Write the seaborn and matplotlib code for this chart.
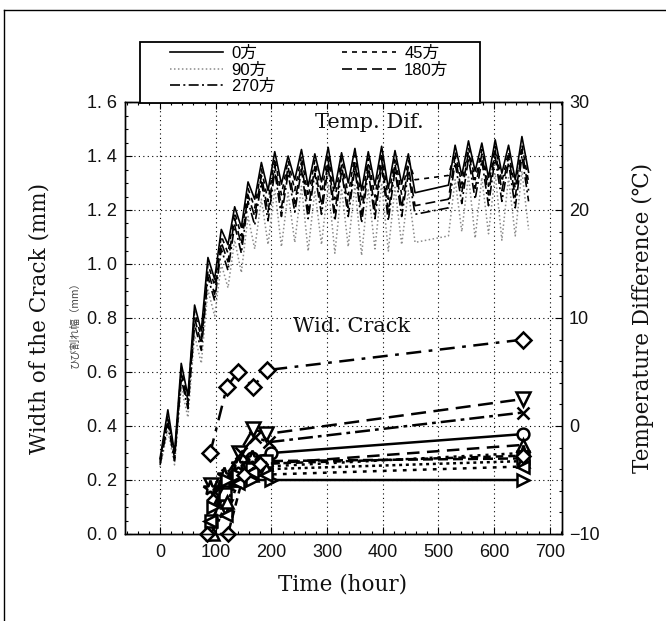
import numpy as np
import pandas as pd
import matplotlib
matplotlib.use("Agg")
import matplotlib.pyplot as plt
from matplotlib.lines import Line2D
from matplotlib.patches import Rectangle
from matplotlib.ticker import MultipleLocator
import seaborn as sns

# ---------------- data ----------------
time_h = [0, 14, 26, 38, 50, 62, 74, 86, 98, 110, 122, 134, 146, 158, 170, 182, 194,
          206, 218, 230, 242, 254, 266, 278, 290, 302, 314, 326, 338, 350, 362, 374,
          386, 398, 410, 422, 434, 446, 458,
          518, 530, 542, 554, 566, 578, 590, 602, 614, 626, 638, 650, 662]

temp_0 = [-3.0, 1.5, -2.5, 5.8, 2.8, 11.2, 8.8, 15.6, 13.6, 18.2, 16.8, 20.3, 18.4, 22.6,
          21.0, 24.4, 21.8, 25.4, 22.4, 25.0, 22.8, 25.6, 22.2, 25.2, 22.6, 25.8, 22.0,
          25.3, 22.5, 25.7, 21.8, 25.4, 22.3, 25.9, 22.0, 25.5, 22.4, 25.2, 21.6,
          22.3, 26.0, 23.2, 26.4, 23.6, 26.2, 23.0, 26.5, 23.4, 26.0, 22.8, 26.8, 23.5]
temp_45 = [-3.2, 1.0, -2.8, 5.2, 2.4, 10.6, 8.2, 15.0, 13.0, 17.6, 16.0, 19.8, 17.6, 22.0,
           20.2, 23.8, 20.8, 24.8, 21.4, 24.6, 21.8, 25.0, 21.2, 24.6, 21.6, 25.2, 21.0,
           24.8, 21.4, 25.1, 20.8, 24.8, 21.2, 25.3, 21.0, 24.9, 21.4, 24.6, 22.8,
           23.2, 25.4, 22.4, 25.8, 22.8, 25.6, 22.2, 25.9, 22.6, 25.4, 22.0, 26.0, 22.6]
temp_90 = [-3.8, -0.4, -3.6, 3.6, 0.8, 8.4, 5.8, 12.6, 10.2, 15.0, 12.8, 17.2, 14.2, 19.4,
           16.4, 21.0, 16.8, 22.0, 16.6, 21.6, 17.0, 22.2, 16.2, 21.8, 16.8, 22.4, 16.0,
           22.0, 16.6, 22.3, 15.8, 22.0, 16.4, 22.5, 16.2, 22.1, 16.8, 21.8, 17.0,
           17.6, 22.8, 18.0, 23.2, 17.4, 23.0, 17.8, 23.4, 17.2, 23.0, 17.6, 23.6, 18.2]
temp_180 = [-3.4, 0.6, -3.0, 4.8, 2.0, 10.0, 7.6, 14.4, 12.2, 17.0, 15.2, 19.2, 16.8, 21.4,
            19.4, 23.2, 19.8, 24.2, 20.2, 24.0, 20.6, 24.4, 20.0, 24.0, 20.4, 24.6, 19.8,
            24.2, 20.2, 24.5, 19.6, 24.2, 20.0, 24.7, 19.8, 24.3, 20.2, 24.0, 20.4,
            21.0, 25.0, 21.6, 25.4, 22.0, 25.2, 21.4, 25.5, 21.8, 25.0, 21.2, 25.6, 21.8]
temp_270 = [-3.6, 0.2, -3.2, 4.4, 1.6, 9.4, 7.0, 13.8, 11.6, 16.4, 14.4, 18.6, 16.0, 20.8,
            18.6, 22.6, 19.0, 23.6, 19.4, 23.4, 19.8, 23.8, 19.2, 23.4, 19.6, 24.0, 19.0,
            23.6, 19.4, 23.9, 18.8, 23.6, 19.2, 24.1, 19.0, 23.7, 19.4, 23.4, 19.6,
            20.2, 24.4, 20.6, 24.8, 21.0, 24.6, 20.4, 24.9, 20.8, 24.4, 20.2, 25.0, 20.8]

temp_labels = ["0方", "45方", "90方", "180方", "270方"]

# crack width series (hours, mm)
crack_A_t = [90, 120, 140, 167, 192, 652]
crack_A_w = [0.30, 0.545, 0.60, 0.545, 0.607, 0.72]
crack_B_t = [92, 117, 142, 167, 190, 652]
crack_B_w = [0.18, 0.10, 0.30, 0.39, 0.37, 0.50]
crack_C_t = [95, 120, 145, 170, 195, 652]
crack_C_w = [0.15, 0.22, 0.30, 0.36, 0.34, 0.45]
crack_D_t = [88, 115, 140, 165, 200, 652]
crack_D_w = [0.00, 0.18, 0.25, 0.28, 0.30, 0.37]
crack_E_t = [90, 115, 140, 165, 190, 652]
crack_E_w = [0.02, 0.20, 0.24, 0.27, 0.26, 0.33]
crack_F_t = [90, 115, 140, 165, 190, 652]
crack_F_w = [0.17, 0.22, 0.26, 0.28, 0.25, 0.30]
crack_G_t = [92, 117, 138, 165, 190, 652]
crack_G_w = [0.05, 0.15, 0.20, 0.24, 0.27, 0.28]
crack_H_t = [95, 120, 140, 165, 190, 652]
crack_H_w = [0.00, 0.12, 0.20, 0.22, 0.24, 0.27]
crack_I_t = [95, 120, 140, 165, 200, 652]
crack_I_w = [0.10, 0.20, 0.22, 0.20, 0.20, 0.20]
crack_J_t = [90, 118, 140, 165, 190, 652]
crack_J_w = [0.05, 0.07, 0.19, 0.23, 0.22, 0.25]
crack_K_t = [85, 122, 150, 180, 652]
crack_K_w = [0.00, 0.00, 0.22, 0.26, 0.29]

x_ticks = [0, 100, 200, 300, 400, 500, 600, 700]
left_ticks = [0.0, 0.2, 0.4, 0.6, 0.8, 1.0, 1.2, 1.4, 1.6]
left_tick_labels = ["0. 0", "0. 2", "0. 4", "0. 6", "0. 8", "1. 0", "1. 2", "1. 4", "1. 6"]
right_ticks = [-10, 0, 10, 20, 30]
right_tick_labels = ["\u221210", "0", "10", "20", "30"]

# ---------------- figure ----------------
W, H = 666, 621
fig = plt.figure(figsize=(W / 100, H / 100), dpi=100)
fig.patch.set_facecolor("white")

def fx(px):
    return px / W

def fy(py):
    return 1 - py / H

ax = fig.add_axes([fx(125), fy(534), (562 - 125) / W, (534 - 102) / H])
ax2 = ax.twinx()

tick_font = ["Liberation Sans", "DejaVu Sans"]
serif = ["DejaVu Serif", "DejaVu Sans"]

# temperature curves on right axis
temp_series = [temp_0, temp_45, temp_90, temp_180, temp_270]
temp_styles = [
    dict(color="black", linestyle="-", lw=1.2),
    dict(color="black", linestyle=(0, (3, 3)), lw=1.2),
    dict(color="#8a8a8a", linestyle=(0, (1, 1.6)), lw=1.1),
    dict(color="black", linestyle=(0, (6, 3)), lw=1.2),
    dict(color="black", linestyle=(0, (6, 2, 1.2, 2)), lw=1.2),
]
plot_order = [2, 4, 3, 1, 0]
for i in plot_order:
    df = pd.DataFrame({"t": time_h, "v": temp_series[i]})
    sns.lineplot(data=df, x="t", y="v", ax=ax2, sort=False, estimator=None,
                 legend=False, **temp_styles[i])

# crack width series on left axis
crack_sets = [
    (crack_A_t, crack_A_w, "D", (0, (6, 3, 1.5, 3)), 8.5),
    (crack_B_t, crack_B_w, "v", (0, (6, 3)), 10),
    (crack_C_t, crack_C_w, "x", (0, (6, 2, 1.5, 2)), 9),
    (crack_D_t, crack_D_w, "o", "-", 8.5),
    (crack_E_t, crack_E_w, "^", (0, (5, 3)), 9),
    (crack_F_t, crack_F_w, "*", (0, (1.2, 2)), 11),
    (crack_G_t, crack_G_w, "s", (0, (4, 2)), 8),
    (crack_H_t, crack_H_w, "^", (0, (1.2, 1.5)), 9),
    (crack_I_t, crack_I_w, ">", "-", 9),
    (crack_J_t, crack_J_w, "<", (0, (1.5, 2.5)), 9),
    (crack_K_t, crack_K_w, "D", (0, (3, 2)), 7.5),
]
for t, w, m, ls, ms in crack_sets:
    df = pd.DataFrame({"t": t, "w": w})
    sns.lineplot(data=df, x="t", y="w", ax=ax, sort=False, estimator=None, legend=False,
                 color="black", linestyle=ls, lw=1.8, marker=m, markersize=ms,
                 markerfacecolor="white", markeredgecolor="black", markeredgewidth=1.8,
                 clip_on=False)

# axes limits/ticks
ax.set_xlim(-63, 722)
ax.set_ylim(0, 1.6)
ax2.set_ylim(-10, 30)
ax.set_xticks(x_ticks)
ax.set_xticklabels([str(v) for v in x_ticks])
ax.xaxis.set_minor_locator(MultipleLocator(20))
ax.set_yticks(left_ticks)
ax.set_yticklabels(left_tick_labels)
ax.yaxis.set_minor_locator(MultipleLocator(0.05))
ax2.set_yticks(right_ticks)
ax2.set_yticklabels(right_tick_labels)
ax2.yaxis.set_minor_locator(MultipleLocator(2))
ax.set_xlabel("")
ax.set_ylabel("")
ax2.set_ylabel("")

ax.tick_params(which="both", direction="in", top=True, right=False, width=0.8)
ax.tick_params(which="major", length=5)
ax.tick_params(which="minor", length=2.5)
ax.tick_params(axis="x", which="major", pad=7)
ax.tick_params(axis="y", which="major", pad=6)
ax2.tick_params(which="both", direction="in", width=0.8)
ax2.tick_params(which="major", length=5, pad=5)
ax2.tick_params(which="minor", length=2.5)

for lab in ax.get_xticklabels() + ax.get_yticklabels() + ax2.get_yticklabels():
    lab.set_family(tick_font)
    lab.set_fontsize(13)
    lab.set_color("#111111")

ax.grid(True, which="major", color="black", linestyle=(0, (1, 3)), linewidth=0.8)
ax.set_axisbelow(True)
for sp in list(ax.spines.values()) + list(ax2.spines.values()):
    sp.set_linewidth(1.0)
    sp.set_color("black")

# axis titles and annotations
fig.text(fx(40), fy(318), "Width of the Crack (mm)", rotation=90, ha="center",
         va="center", family=serif, fontsize=15.5, color="#111111")
fig.text(fx(643), fy(318), "Temperature Difference (\u2103)", rotation=90, ha="center",
         va="center", family=serif, fontsize=15.5, color="#111111")
fig.text(fx(343), fy(584), "Time (hour)", ha="center", va="center", family=serif,
         fontsize=15.5, color="#111111")
fig.text(fx(369), fy(122), "Temp. Dif.", ha="center", va="center", family=serif,
         fontsize=15, color="#111111")
fig.text(fx(352), fy(327), "Wid. Crack", ha="center", va="center", family=serif,
         fontsize=15, color="#111111")
fig.text(fx(75), fy(322), "ひび割れ幅（mm）", rotation=90, ha="center", va="center",
         family=["Noto Sans CJK JP", "DejaVu Sans"], fontsize=7.5, color="#444444")

# legend box
fig.add_artist(Rectangle((fx(140), fy(103)), 340 / W, 61 / H, transform=fig.transFigure,
                         facecolor="white", edgecolor="black", lw=1.3, zorder=5))
order = [0, 2, 4, 1, 3]
handles = [Line2D([], [], **temp_styles[i]) for i in order]
labels = [temp_labels[i] for i in order]
leg = fig.legend(handles, labels, loc="upper left", bbox_to_anchor=(fx(168), fy(44)),
                 ncol=2, frameon=False, handlelength=3.2, handletextpad=0.5,
                 columnspacing=4.0, labelspacing=0.1, borderpad=0.1, borderaxespad=0,
                 prop={"family": ["Liberation Sans", "Noto Sans CJK JP"], "size": 12})
leg.set_zorder(6)

# scan border
fig.add_artist(Line2D([fx(4), fx(4)], [0, fy(10)], transform=fig.transFigure,
                      color="black", lw=1.0))
fig.add_artist(Line2D([fx(4), 1], [fy(10), fy(10)], transform=fig.transFigure,
                      color="black", lw=1.0))

fig.savefig("out.png", dpi=100, facecolor="white")
